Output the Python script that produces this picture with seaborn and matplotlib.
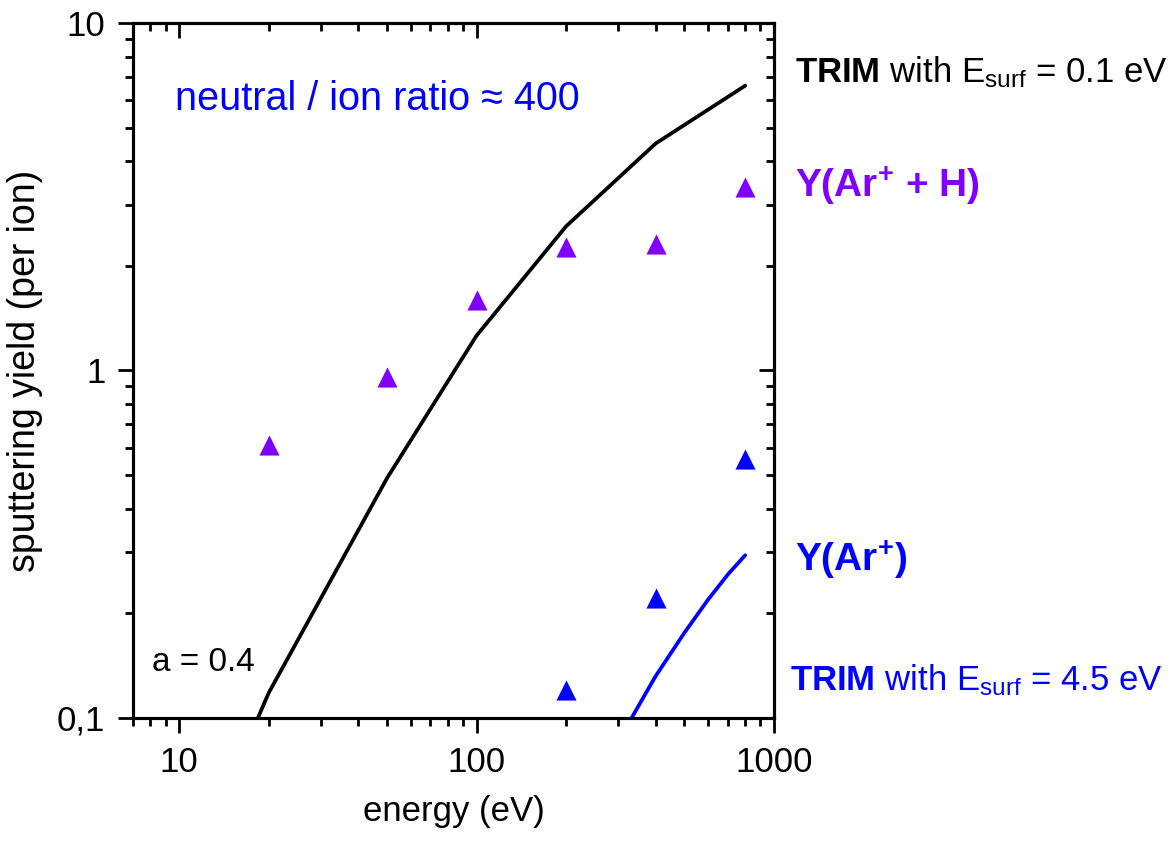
import matplotlib
matplotlib.use('Agg')
import matplotlib.pyplot as plt
import matplotlib.ticker as mticker
import seaborn as sns

# TRIM line, E_surf = 0.1 eV (black)
trim01_energy = [18.4, 20, 50, 100, 200, 400, 800]
trim01_yield = [0.1, 0.118, 0.49, 1.26, 2.6, 4.5, 6.6]

# TRIM line, E_surf = 4.5 eV (blue)
trim45_energy = [332, 400, 500, 600, 700, 800]
trim45_yield = [0.1, 0.132, 0.176, 0.219, 0.259, 0.294]

# measured Y(Ar+ + H) (purple triangles)
arh_energy = [20, 50, 100, 200, 400, 800]
arh_yield = [0.61, 0.96, 1.59, 2.27, 2.31, 3.37]

# measured Y(Ar+) (blue triangles)
ar_energy = [200, 400, 800]
ar_yield = [0.12, 0.221, 0.556]

x_ticks = [10, 100, 1000]
x_ticklabels = ['10', '100', '1000']
y_ticks = [0.1, 1, 10]
y_ticklabels = ['0,1', '1', '10']

purple = '#8000ff'
blue = '#0000ff'

sns.set_style('ticks')
plt.rcParams['font.family'] = ['Liberation Sans', 'DejaVu Sans']
plt.rcParams['mathtext.fontset'] = 'custom'
plt.rcParams['mathtext.rm'] = 'Liberation Sans'
plt.rcParams['mathtext.bf'] = 'Liberation Sans:bold'
plt.rcParams['mathtext.it'] = 'Liberation Sans:italic'
plt.rcParams['axes.labelcolor'] = 'black'
plt.rcParams['text.color'] = 'black'

fig = plt.figure(figsize=(11.68, 8.42), dpi=100)
ax = fig.add_axes([0.1139, 0.1473, 0.5488, 0.8254])

sns.lineplot(x=trim01_energy, y=trim01_yield, color='black', lw=2.7, ax=ax, sort=False)
sns.lineplot(x=trim45_energy, y=trim45_yield, color=blue, lw=2.7, ax=ax, sort=False)
sns.scatterplot(x=arh_energy, y=arh_yield, color=purple, marker='^', s=210,
                edgecolor=purple, linewidth=0, ax=ax, zorder=3)
sns.scatterplot(x=ar_energy, y=ar_yield, color=blue, marker='^', s=210,
                edgecolor=blue, linewidth=0, ax=ax, zorder=3)

ax.set_xscale('log')
ax.set_yscale('log')
ax.set_xlim(7, 1000)
ax.set_ylim(0.1, 10)

ax.xaxis.set_major_locator(mticker.FixedLocator(x_ticks))
ax.xaxis.set_major_formatter(mticker.FixedFormatter(x_ticklabels))
ax.yaxis.set_major_locator(mticker.FixedLocator(y_ticks))
ax.yaxis.set_major_formatter(mticker.FixedFormatter(y_ticklabels))
ax.xaxis.set_minor_locator(mticker.LogLocator(base=10, subs=range(2, 10)))
ax.yaxis.set_minor_locator(mticker.LogLocator(base=10, subs=range(2, 10)))
ax.xaxis.set_minor_formatter(mticker.NullFormatter())
ax.yaxis.set_minor_formatter(mticker.NullFormatter())

ax.tick_params(which='major', direction='out', length=11, width=2, labelsize=25, pad=9, colors='black')
ax.tick_params(which='minor', direction='out', length=5.5, width=2, colors='black')
for side in ax.spines.values():
    side.set_linewidth(2.2)
    side.set_color('black')

# inward ticks on top and right
axt = ax.twiny()
axt.set_xscale('log')
axt.set_xlim(ax.get_xlim())
axt.xaxis.set_major_locator(mticker.FixedLocator(x_ticks))
axt.xaxis.set_minor_locator(mticker.LogLocator(base=10, subs=range(2, 10)))
axt.tick_params(which='major', direction='in', length=11, width=2, labeltop=False, colors='black')
axt.tick_params(which='minor', direction='in', length=5.5, width=2, labeltop=False, colors='black')
axr = ax.twinx()
axr.set_yscale('log')
axr.set_ylim(ax.get_ylim())
axr.yaxis.set_major_locator(mticker.FixedLocator(y_ticks))
axr.yaxis.set_minor_locator(mticker.LogLocator(base=10, subs=range(2, 10)))
axr.tick_params(which='major', direction='in', length=11, width=2, labelright=False, colors='black')
axr.tick_params(which='minor', direction='in', length=5.5, width=2, labelright=False, colors='black')
for a in (axt, axr):
    for side in a.spines.values():
        side.set_linewidth(2.2)
        side.set_color('black')

ax.set_xlabel('energy (eV)', fontsize=25, labelpad=12)
ax.set_ylabel('sputtering yield (per ion)', fontsize=27, labelpad=10)

ax.text(0.066, 0.89, 'neutral / ion ratio \u2248 400', transform=ax.transAxes,
        fontsize=28.5, color=blue, ha='left', va='center')
ax.text(0.03, 0.08, 'a = 0.4', transform=ax.transAxes,
        fontsize=24, color='black', ha='left', va='center')

fig.text(0.681, 0.914, r'$\mathbf{TRIM}$ with E$_{\mathrm{surf}}$ = 0.1 eV',
         fontsize=25, color='black', ha='left', va='center')
fig.text(0.681, 0.78, r'Y(Ar$^{\mathbf{+}}$ + H)', fontsize=28, fontweight='bold',
         color=purple, ha='left', va='center')
fig.text(0.681, 0.335, r'Y(Ar$^{\mathbf{+}}$)', fontsize=28, fontweight='bold',
         color=blue, ha='left', va='center')
fig.text(0.676, 0.192, r'$\mathbf{TRIM}$ with E$_{\mathrm{surf}}$ = 4.5 eV',
         fontsize=25, color=blue, ha='left', va='center')

fig.savefig('out.png', dpi=100, facecolor='white')
